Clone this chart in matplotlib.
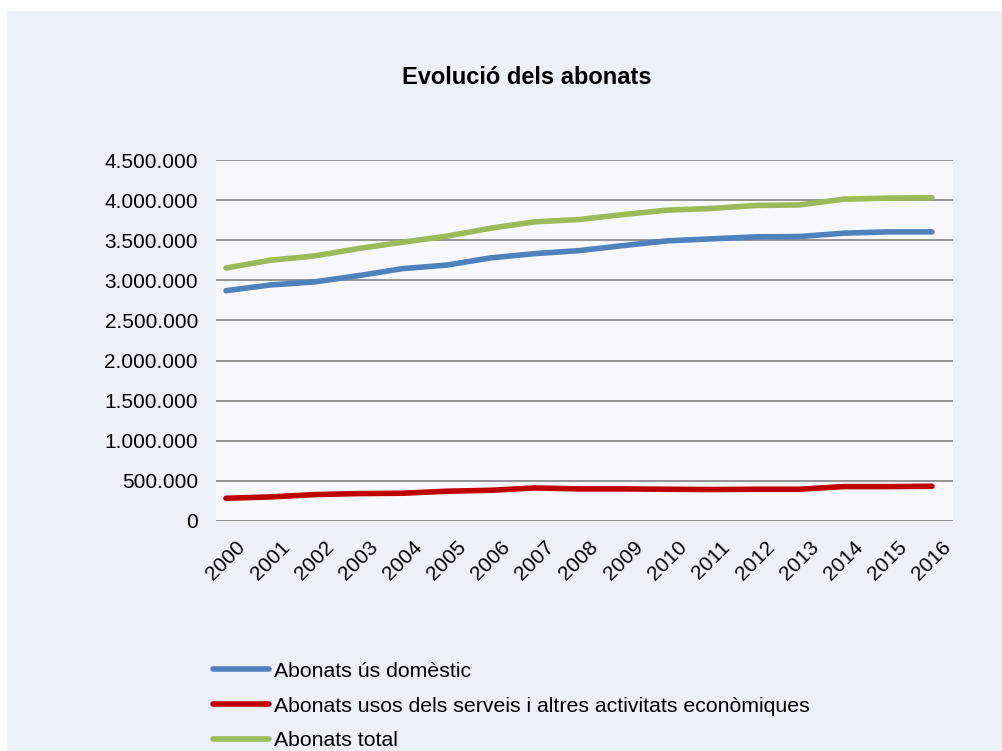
import matplotlib
matplotlib.use("Agg")
import matplotlib.pyplot as plt
from matplotlib.patches import Rectangle
from matplotlib.ticker import FuncFormatter, MultipleLocator

plt.rcParams["font.family"] = ["Liberation Sans", "DejaVu Sans"]

W, H = 1003, 751

years = [str(y) for y in range(2000, 2017)]
domestic = [2871000, 2942000, 2980000, 3058000, 3146000, 3190000, 3280000, 3333000,
            3370000, 3433000, 3492000, 3517000, 3542000, 3546000, 3588000, 3604000,
            3604000]
services = [283000, 300000, 329000, 342000, 346000, 371000, 383000, 412000,
            400000, 400000, 396000, 392000, 396000, 396000, 429000, 429000, 433000]
total = [3154000, 3250000, 3304000, 3396000, 3475000, 3550000, 3650000, 3729000,
         3758000, 3820000, 3875000, 3896000, 3933000, 3940000, 4012000, 4025000,
         4030000]

labels = ["Abonats ús domèstic",
          "Abonats usos dels serveis i altres activitats econòmiques",
          "Abonats total"]
colors = ["#4F81BD", "#C00000", "#9BBB59"]

fig = plt.figure(figsize=(W / 100, H / 100), dpi=100)
fig.patch.set_facecolor("white")
# chart-area panel (starts a few px in from the top/left edge)
fig.add_artist(Rectangle((7 / W, 0), 1 - 7 / W, 1 - 11 / H,
                         transform=fig.transFigure, facecolor="#ECF1F8",
                         edgecolor="none", zorder=0))

ax = fig.add_axes([216 / W, (H - 521) / H, 737 / W, 361 / H])
ax.set_facecolor("#F6F8FB")

x = list(range(len(years)))
for vals, c, lab in zip([domestic, services, total], colors, labels):
    ax.plot(x, vals, color=c, lw=4, solid_capstyle="round", label=lab, zorder=3)

ax.set_ylim(0, 4500000)
ax.set_xlim(-0.227, 16.476)
ax.yaxis.set_major_locator(MultipleLocator(500000))
ax.yaxis.set_major_formatter(FuncFormatter(lambda v, p: f"{int(v):,}".replace(",", ".")))
ax.grid(axis="y", color="#8C8C8C", lw=1.3, zorder=1)
for s in ax.spines.values():
    s.set_visible(False)

ax.set_xticks(x)
ax.set_xticklabels(years, rotation=45, ha="center")
ax.tick_params(axis="x", length=0, pad=12, labelsize=15)
ax.tick_params(axis="y", length=0, pad=13, labelsize=15)

fig.text(527 / W, 1 - 78 / H, "Evolució dels abonats", ha="center", va="center",
         fontsize=17, fontweight="bold")

ax.legend(loc="center left", bbox_to_anchor=(213 / W, 1 - 706 / H),
          bbox_transform=fig.transFigure, frameon=False, fontsize=15.3,
          handlelength=2.65, handletextpad=0.2, labelspacing=0.75,
          borderpad=0, borderaxespad=0)

fig.savefig("out.png", dpi=100, facecolor=fig.get_facecolor())
